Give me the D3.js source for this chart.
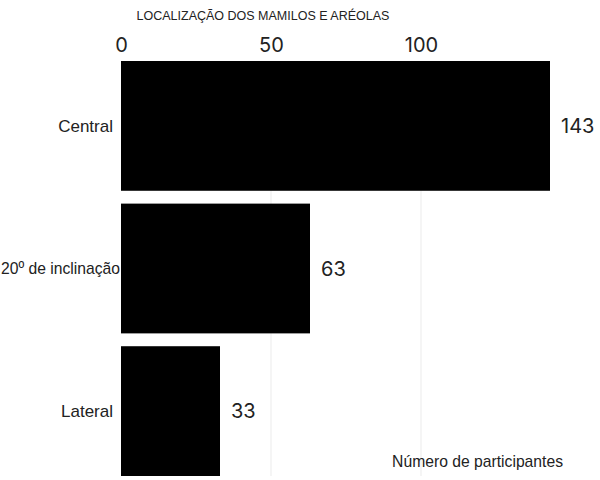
<!DOCTYPE html>
<html><head><meta charset="utf-8">
<script src="https://cdn.jsdelivr.net/npm/d3@7"></script>
<style>body{margin:0;background:#fff}</style>
</head><body>
<svg id="c" width="600" height="480"></svg>
<script>
const categories = ["Central", "20º de inclinação", "Lateral"];
const values = [143, 63, 33];
const tickValues = [0, 50, 100];
const title = "LOCALIZAÇÃO DOS MAMILOS E ARÉOLAS";
const axisLabel = "Número de participantes";

const svg = d3.select("#c");
const x = d3.scaleLinear().domain([0, 100]).range([121, 421]);
const y = d3.scaleBand().domain(categories).range([61, 476]).paddingInner(0.09).paddingOuter(0);

// gridlines
svg.append("g").selectAll("line").data(tickValues.filter(d => d > 0)).join("line")
  .attr("x1", d => x(d)).attr("x2", d => x(d))
  .attr("y1", 61).attr("y2", 476)
  .attr("stroke", "#ebebeb").attr("stroke-width", 1);

// top axis
const axis = d3.axisTop(x).tickValues(tickValues).tickSize(0).tickPadding(0);
const ag = svg.append("g").attr("transform", "translate(0,52)").call(axis);
ag.select(".domain").remove();
ag.selectAll("text").attr("font-family", "Inter, 'Open Sans', sans-serif")
  .attr("font-size", 20).attr("fill", "#222").attr("dy", 0);

// bars
svg.append("g").selectAll("rect").data(values).join("rect")
  .attr("x", x(0)).attr("y", (d, i) => y(categories[i]))
  .attr("width", d => x(d) - x(0)).attr("height", y.bandwidth())
  .attr("fill", "#000");

// value labels
svg.append("g").selectAll("text").data(values).join("text")
  .attr("x", d => x(d) + 11).attr("y", (d, i) => y(categories[i]) + y.bandwidth() / 2)
  .attr("dy", "0.36em").attr("font-family", "Inter, 'Open Sans', sans-serif")
  .attr("font-size", 20).attr("fill", "#222").text(d => d);

// category labels
svg.append("g").selectAll("text").data(categories).join("text")
  .attr("x", d => d.startsWith("20") ? 120 : 113)
  .attr("y", d => y(d) + y.bandwidth() / 2)
  .attr("dy", "0.35em").attr("text-anchor", "end")
  .attr("font-family", "'Liberation Sans', Arial, sans-serif")
  .attr("font-size", 17).attr("fill", "#222")
  .attr("textLength", d => d.startsWith("20") ? 119 : null)
  .attr("lengthAdjust", "spacingAndGlyphs")
  .text(d => d);

// title
svg.append("text").attr("x", 263).attr("y", 20).attr("text-anchor", "middle")
  .attr("font-family", "'Liberation Sans', Arial, sans-serif").attr("font-size", 12.5)
  .attr("fill", "#222").text(title);

// axis label
svg.append("text").attr("x", 563).attr("y", 467).attr("text-anchor", "end")
  .attr("font-family", "'Liberation Sans', Arial, sans-serif").attr("font-size", 15.7)
  .attr("fill", "#222").text(axisLabel);
</script>
</body></html>
